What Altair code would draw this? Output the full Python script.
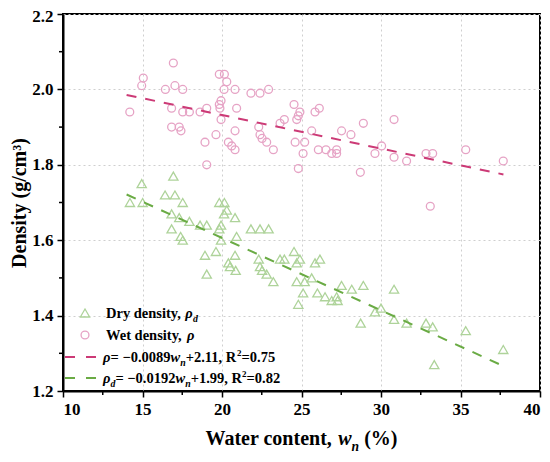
import altair as alt
import pandas as pd

# ---------------- data ----------------
wet_w = [14.2, 15.05, 14.95, 16.94, 17.04, 16.44, 17.53, 16.83, 17.53, 17.95,
         18.62, 19.04, 16.83, 17.31, 17.42, 18.93, 19.04, 19.62, 19.83, 20.15,
         20.3, 20.13, 20.82, 19.94, 19.83, 19.87, 20.92, 19.94, 20.82, 20.4,
         20.61, 20.82, 21.82, 22.39, 22.93, 22.31, 22.39, 22.52, 22.81, 23.23,
         23.65, 23.92, 24.53, 24.9, 24.8, 24.7, 24.6, 25.2, 25.1, 24.8,
         25.64, 25.85, 26.12, 26.06, 26.54, 26.9, 27.21, 27.21, 27.52, 28.11,
         28.89, 28.7, 29.62, 30.04, 30.82, 30.82, 31.61, 32.83, 33.25, 33.1,
         35.33, 37.69]
wet_rho = [1.94, 2.03, 2.01, 2.07, 2.01, 2.00, 2.00, 1.95, 1.94, 1.94,
           1.94, 1.95, 1.90, 1.90, 1.89, 1.86, 1.80, 1.88, 2.04, 2.04,
           2.02, 2.00, 2.00, 1.97, 1.96, 1.95, 1.95, 1.92, 1.89, 1.86,
           1.85, 1.84, 1.99, 1.99, 2.00, 1.90, 1.88, 1.87, 1.86, 1.84,
           1.91, 1.92, 1.96, 1.94, 1.93, 1.92, 1.86, 1.86, 1.83, 1.79,
           1.89, 1.94, 1.95, 1.84, 1.84, 1.83, 1.84, 1.83, 1.89, 1.88,
           1.91, 1.78, 1.83, 1.85, 1.92, 1.82, 1.81, 1.83, 1.83, 1.69,
           1.84, 1.81]

dry_w = [14.21, 14.95, 15.01, 16.94, 16.42, 17.04, 17.53, 16.83, 17.31, 16.83,
         17.4, 17.53, 17.95, 18.62, 19.04, 18.93, 19.04, 19.62, 19.83, 20.15,
         20.3, 20.13, 20.82, 19.94, 19.83, 19.94, 20.92, 20.82, 20.4, 20.5,
         20.86, 21.82, 22.39, 22.93, 22.31, 22.39, 22.52, 22.81, 23.23, 23.65,
         23.92, 24.53, 24.9, 24.7, 24.7, 25.2, 25.1, 24.8, 25.64, 25.85,
         26.16, 26.0, 26.48, 26.9, 27.21, 27.27, 27.52, 28.16, 28.89, 28.72,
         29.62, 30.0, 30.82, 30.82, 31.61, 32.83, 33.25, 33.35, 35.33, 37.69]
dry_rho = [1.70, 1.75, 1.70, 1.77, 1.72, 1.72, 1.70, 1.67, 1.66, 1.63,
           1.61, 1.60, 1.65, 1.64, 1.64, 1.56, 1.51, 1.57, 1.70, 1.70,
           1.68, 1.67, 1.66, 1.64, 1.63, 1.60, 1.61, 1.56, 1.54, 1.53,
           1.52, 1.63, 1.63, 1.63, 1.55, 1.53, 1.52, 1.51, 1.49, 1.55,
           1.55, 1.57, 1.55, 1.54, 1.49, 1.49, 1.46, 1.43, 1.50, 1.54,
           1.55, 1.46, 1.45, 1.44, 1.45, 1.44, 1.48, 1.47, 1.48, 1.38,
           1.41, 1.42, 1.47, 1.39, 1.38, 1.38, 1.37, 1.27, 1.36, 1.31]

# fitted lines (from the equations in the legend)
wet_fit = {"slope": -0.0089, "intercept": 2.11, "range": [14.0, 37.7]}
dry_fit = {"slope": -0.0192, "intercept": 1.99, "range": [14.0, 37.9]}

x_ticks = [10, 15, 20, 25, 30, 35, 40]
y_ticks = [1.2, 1.4, 1.6, 1.8, 2.0, 2.2]
x_minor = [12.5, 17.5, 22.5, 27.5, 32.5, 37.5]
y_minor = [1.3, 1.5, 1.7, 1.9, 2.1]

# ---------------- styling ----------------
W, H = 477, 377
FONT = "Liberation Serif"
WET_PT = "#E6A3C5"
DRY_PT = "#AED39A"
WET_LN = "#CC3A76"
DRY_LN = "#6AAB44"

xs = alt.Scale(domain=[10, 40], nice=False, zero=False)
ys = alt.Scale(domain=[1.2, 2.2], nice=False, zero=False)

x_axis = alt.Axis(values=x_ticks, format="d", title=None, grid=True,
                  gridColor="#cfcfcf", gridDash=[2, 3], gridWidth=1,
                  labelFont=FONT, labelFontSize=17, labelFontWeight="bold",
                  labelColor="black", labelPadding=4, tickSize=6, tickWidth=1.5,
                  tickColor="black", domainColor="black", domainWidth=2)
y_axis = alt.Axis(values=y_ticks, format=".1f", title="Density (g/cm³)", grid=True,
                  gridColor="#cfcfcf", gridDash=[2, 3], gridWidth=1,
                  labelFont=FONT, labelFontSize=17, labelFontWeight="bold",
                  labelColor="black", labelPadding=4, tickSize=6, tickWidth=1.5,
                  labelOffset={"condition": {"test": "datum.value > 2.15", "value": 2.5},
                               "value": 0},
                  tickColor="black", domainColor="black", domainWidth=2,
                  titleFont=FONT, titleFontSize=20, titleFontWeight="bold",
                  titleColor="black", titlePadding=2)

X = alt.X("w:Q", scale=xs, axis=x_axis)
Y = alt.Y("rho:Q", scale=ys, axis=y_axis)

wet_df = pd.DataFrame({"w": wet_w, "rho": wet_rho})
dry_df = pd.DataFrame({"w": dry_w, "rho": dry_rho})


def fit_df(f):
    return pd.DataFrame({"w": f["range"],
                         "rho": [f["intercept"] + f["slope"] * v for v in f["range"]]})


dry_pts = alt.Chart(dry_df).mark_point(shape="triangle-up", filled=False, size=85,
                                       strokeWidth=1.3, color=DRY_PT, opacity=1).encode(x=X, y=Y)
wet_pts = alt.Chart(wet_df).mark_point(shape="circle", filled=False, size=62,
                                       strokeWidth=1.3, color=WET_PT, opacity=1).encode(x=X, y=Y)
wet_line = alt.Chart(fit_df(wet_fit)).mark_line(color=WET_LN, strokeWidth=2,
                                                strokeDash=[10, 9]).encode(x=X, y=Y)
dry_line = alt.Chart(fit_df(dry_fit)).mark_line(color=DRY_LN, strokeWidth=2,
                                                strokeDash=[10, 9]).encode(x=X, y=Y)

xminor = alt.Chart(pd.DataFrame({"w": x_minor})).mark_rule(color="black", strokeWidth=1.5).encode(
    x=X, y=alt.value(H), y2=alt.value(H + 4))
yminor = alt.Chart(pd.DataFrame({"rho": y_minor})).mark_rule(color="black", strokeWidth=1.5).encode(
    y=Y, x=alt.value(-4), x2=alt.value(0))

# ---------------- rich text helpers ----------------
BOLD = {' ': 250, '!': 333, '%': 1000, '(': 333, ')': 333, '+': 570, ',': 250, '-': 333,
        '.': 250, '/': 278, '=': 570, '−': 570, '²': 300, '³': 300, 'ρ': 500}
for d in "0123456789":
    BOLD[d] = 500
BOLD.update(dict(zip("ABCDEFGHIJKLMNOPQRSTUVWXYZ",
                     [722, 667, 722, 722, 667, 611, 778, 778, 389, 500, 778, 667, 944, 722,
                      778, 611, 778, 722, 556, 667, 722, 722, 1000, 722, 722, 667])))
BOLD.update(dict(zip("abcdefghijklmnopqrstuvwxyz",
                     [500, 556, 444, 556, 444, 333, 500, 556, 278, 333, 556, 278, 833, 556,
                      500, 556, 556, 444, 389, 333, 556, 500, 722, 500, 500, 444])))
BOLDIT = dict(BOLD)
BOLDIT.update({'w': 667, 'n': 556, 'd': 500, 'ρ': 520})

one = pd.DataFrame({"a": [0]})


def text_width(s, size, italic):
    table = BOLDIT if italic else BOLD
    return sum(table.get(c, 550) for c in s) * size / 1000.0


def rich(parts, x0, baseline, size, align="left"):
    """parts: list of (text, kind) with kind in b, bi, bisub, bsup"""
    specs = []
    for text, kind in parts:
        italic = kind.startswith("bi")
        if kind.endswith("sub"):
            fs, dy = size * 0.68, size * 0.28
        elif kind.endswith("sup"):
            fs, dy = size * 0.62, -size * 0.38
        else:
            fs, dy = size, 0
        lead = len(text) - len(text.lstrip(" "))
        lead_w = text_width(" " * lead, fs, italic)
        specs.append((text.strip(" "), italic, fs, dy, lead_w, text_width(text, fs, italic)))
    total = sum(s[5] for s in specs)
    x = x0 - total / 2 if align == "center" else x0
    layers = []
    for text, italic, fs, dy, lead_w, w in specs:
        layers.append(alt.Chart(one).mark_text(
            text=text, font=FONT, fontWeight="bold",
            fontStyle="italic" if italic else "normal", fontSize=fs,
            align="left", baseline="alphabetic", color="black").encode(
            x=alt.value(x + lead_w), y=alt.value(baseline + dy)))
        x += w
    return layers


LEG_FS = 14.5
rows = [299, 321, 343, 364]
leg_layers = []
leg_layers.append(alt.Chart(one).mark_point(shape="triangle-up", filled=False, size=85,
                                            strokeWidth=1.3, color=DRY_PT, opacity=1).encode(
    x=alt.value(22), y=alt.value(rows[0])))
leg_layers.append(alt.Chart(one).mark_point(shape="circle", filled=False, size=62,
                                            strokeWidth=1.3, color=WET_PT, opacity=1).encode(
    x=alt.value(22), y=alt.value(rows[1])))
leg_layers.append(alt.Chart(one).mark_rule(color=WET_LN, strokeWidth=2, strokeDash=[10, 11]).encode(
    x=alt.value(2), x2=alt.value(33), y=alt.value(rows[2])))
leg_layers.append(alt.Chart(one).mark_rule(color=DRY_LN, strokeWidth=2, strokeDash=[10, 11]).encode(
    x=alt.value(2), x2=alt.value(33), y=alt.value(rows[3])))

leg_layers += rich([("Dry density, ", "b"), ("ρ", "bi"), ("d", "bisub")], 43, rows[0] + 5, LEG_FS)
leg_layers += rich([("Wet density, ", "b"), ("ρ", "bi")], 43, rows[1] + 5, LEG_FS)
leg_layers += rich([("ρ", "bi"), ("= −0.0089", "b"), ("w", "bi"), ("n", "bisub"),
                    ("+2.11, R", "b"), ("2", "bsup"), ("=0.75", "b")], 40, rows[2] + 5, LEG_FS)
leg_layers += rich([("ρ", "bi"), ("d", "bisub"), ("= −0.0192", "b"), ("w", "bi"), ("n", "bisub"),
                    ("+1.99, R", "b"), ("2", "bsup"), ("=0.82", "b")], 40, rows[3] + 5, LEG_FS)

xtitle = rich([("Water content, ", "b"), ("w", "bi"), ("n", "bisub"), (" (%)", "b")],
              W / 2, 431, 20, align="center")

chart = alt.layer(dry_pts, wet_pts, wet_line, dry_line, xminor, yminor,
                  *leg_layers, *xtitle).properties(
    width=W, height=H,
    padding={"left": 55, "top": 6, "right": 2, "bottom": 63},
    autosize=alt.AutoSizeParams(type="none"),
    background="white",
).configure_view(stroke="black", strokeWidth=2)

chart.save("out.html", embed_options={"renderer": "svg", "actions": False})
